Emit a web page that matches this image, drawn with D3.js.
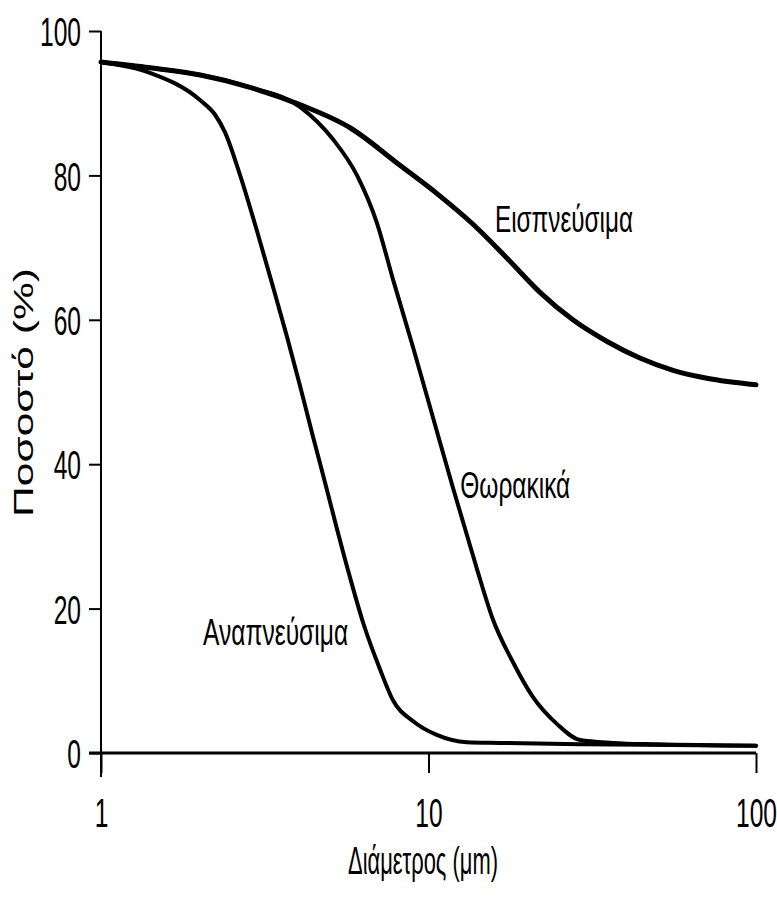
<!DOCTYPE html>
<html>
<head>
<meta charset="utf-8">
<title>Ποσοστό - Διάμετρος</title>
<style>
body { margin: 0; background: #fff; }
text { font-family: "Liberation Sans", Arial, sans-serif; fill: #000; }
.axis path { display: none; }
.axis line { stroke: #000; stroke-width: 2; }
.curve { fill: none; stroke: #000; stroke-linecap: round; stroke-linejoin: round; }
</style>
</head>
<body>
<script src="https://cdn.jsdelivr.net/npm/d3@7"></script>
<script>
// values: diameter (um) and percent
var inhalableSize = [1, 1.41, 2.01, 2.85, 4.05, 5.76, 8.18, 10.8, 13.7, 17.4, 21.9, 27.6, 35.1, 44.2, 55.8, 70.8, 100];
var inhalablePct  = [95.7, 94.9, 93.9, 92.2, 89.8, 86.6, 81.4, 77.2, 73.2, 68.5, 63.8, 60.0, 57.0, 54.7, 53.0, 51.9, 51.0];

var thoracicSize = [1, 1.41, 2.01, 2.85, 4.05, 5.11, 6.05, 6.96, 7.79, 8.97, 10.3, 11.9, 13.1, 14.1, 15.7, 18.1, 20.8, 24.7, 29.0, 36.6, 50, 100];
var thoracicPct  = [95.7, 94.9, 93.9, 92.2, 89.5, 85.0, 80.0, 73.4, 65.6, 56.2, 46.6, 36.6, 30.2, 25.3, 18.6, 12.6, 7.8, 4.0, 1.8, 1.4, 1.2, 1.0];

var respirableSize = [1, 1.41, 2.01, 2.23, 2.39, 2.66, 2.99, 3.35, 3.70, 4.05, 4.44, 4.90, 5.25, 5.76, 6.33, 7.11, 7.79, 8.98, 10.6, 13.1, 16.5, 30, 100];
var respirablePct  = [95.7, 94.2, 90.4, 88.4, 86.0, 80.0, 72.4, 64.6, 57.6, 50.9, 43.8, 36.4, 31.1, 24.3, 17.9, 11.6, 7.3, 4.4, 2.5, 1.5, 1.4, 1.2, 1.0];

var seriesNames = ["Εισπνεύσιμα", "Θωρακικά", "Αναπνεύσιμα"];
var xTicks = [1, 10, 100];
var yTicks = [0, 20, 40, 60, 80, 100];
var xTitle = "Διάμετρος (μm)";
var yTitle = "Ποσοστό (%)";

var width = 777;
var height = 907;
var sx = 0.6; // narrow type, like the scan

var svg = d3.select("body")
	.append("svg")
	.attr("width", width)
	.attr("height", height);

var x = d3.scaleLog().domain([1, 100]).range([101, 756]);
var y = d3.scaleLinear().domain([0, 100]).range([753, 31]);

// y axis
var gy = svg.append("g")
	.attr("class", "axis")
	.attr("transform", "translate(101,0)")
	.call(d3.axisLeft(y).tickValues(yTicks).tickSize(12).tickSizeOuter(0));
gy.selectAll("text")
	.attr("x", -20 / sx)
	.attr("dy", "0.36em")
	.attr("transform", "scale(" + sx + ",1)")
	.style("font-size", "41px");

svg.append("line")
	.attr("x1", 101).attr("x2", 101)
	.attr("y1", y(100)).attr("y2", 777)
	.attr("stroke", "#000").attr("stroke-width", 2);

// x axis
var gx = svg.append("g")
	.attr("class", "axis")
	.attr("transform", "translate(0," + y(0) + ")")
	.call(d3.axisBottom(x).tickValues(xTicks).tickFormat(d3.format("d")).tickSize(20).tickSizeOuter(0));
gx.selectAll("text")
	.attr("y", 45)
	.attr("transform", "scale(" + sx + ",1)")
	.style("font-size", "41px");

svg.append("line")
	.attr("x1", 89).attr("x2", x(100))
	.attr("y1", y(0)).attr("y2", y(0))
	.attr("stroke", "#000").attr("stroke-width", 3);

// curves
var line = d3.line()
	.x(function(d){ return x(d[0]); })
	.y(function(d){ return y(d[1]); })
	.curve(d3.curveMonotoneX);

function pairs(a, b){
	return a.map(function(v, i){ return [v, b[i]]; });
}

svg.append("path").attr("class", "curve")
	.attr("stroke-width", 5)
	.attr("d", line(pairs(inhalableSize, inhalablePct)));
svg.append("path").attr("class", "curve")
	.attr("stroke-width", 4)
	.attr("d", line(pairs(thoracicSize, thoracicPct)));
svg.append("path").attr("class", "curve")
	.attr("stroke-width", 4)
	.attr("d", line(pairs(respirableSize, respirablePct)));

// curve labels
var labelAt = [[15.96, 72.2, 138], [12.5, 35.3, 110], [2.05, 15.0, 145]];
svg.selectAll(".lbl")
	.data(seriesNames)
	.enter()
	.append("text")
	.attr("class", "lbl")
	.attr("x", function(d, i){ return x(labelAt[i][0]); })
	.attr("y", function(d, i){ return y(labelAt[i][1]); })
	.attr("textLength", function(d, i){ return labelAt[i][2]; })
	.attr("lengthAdjust", "spacingAndGlyphs")
	.style("font-size", "37px")
	.text(function(d){ return d; });

// axis titles
svg.append("text")
	.attr("x", 348).attr("y", 874)
	.attr("textLength", 150)
	.attr("lengthAdjust", "spacingAndGlyphs")
	.style("font-size", "38px")
	.text(xTitle);

svg.append("text")
	.attr("transform", "translate(33,517) rotate(-90)")
	.attr("textLength", 249)
	.attr("lengthAdjust", "spacingAndGlyphs")
	.style("font-size", "28px")
	.text(yTitle);
</script>
</body>
</html>
